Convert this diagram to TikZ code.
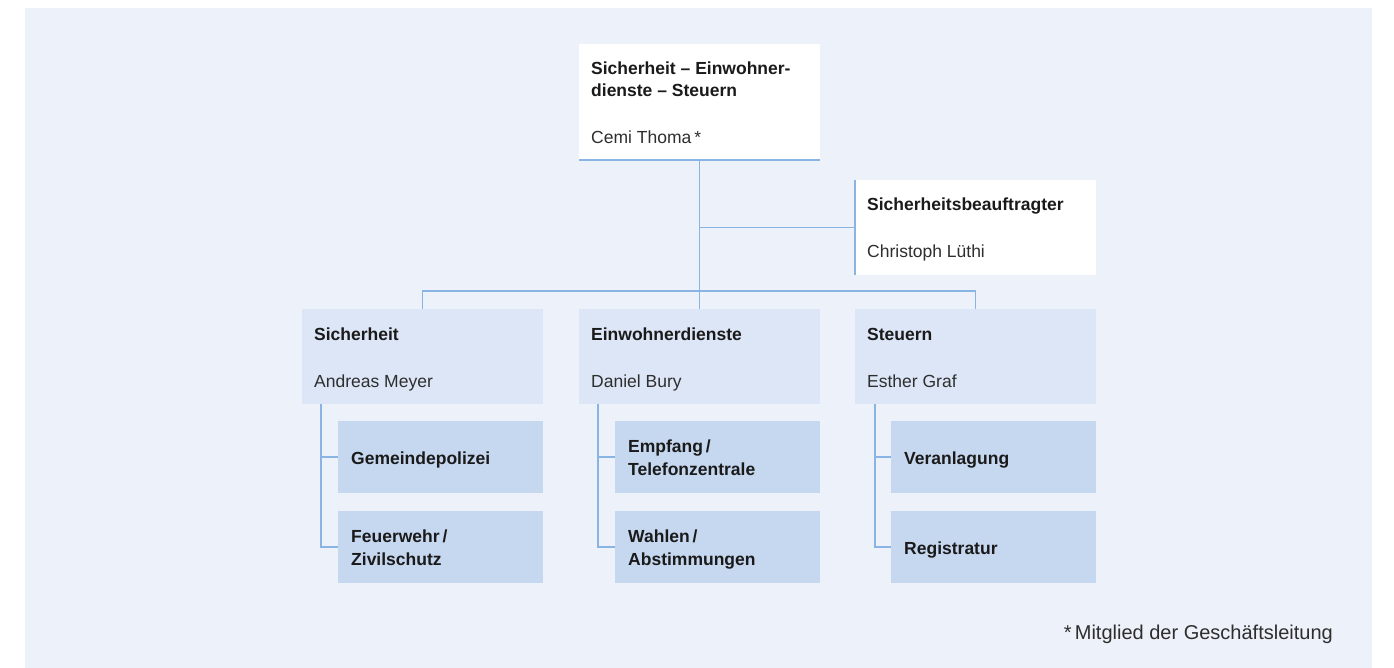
\documentclass[tikz,border=0pt]{standalone}
\usepackage{fontspec}
\setmainfont{Liberation Sans}
\definecolor{bgc}{HTML}{EDF1F9}
\definecolor{lvtwo}{HTML}{DCE6F6}
\definecolor{subc}{HTML}{C6D7F0}
\definecolor{linec}{HTML}{8AB4E3}
\definecolor{txtc}{HTML}{1A1A1A}
\definecolor{namec}{HTML}{2E2E2E}
\tikzset{
  box/.style={rectangle, draw=none, inner sep=0pt, outer sep=0pt, anchor=north west},
  topbox/.style={box, fill=white, minimum width=241pt, minimum height=95pt},
  lvbox/.style={box, fill=lvtwo, minimum width=241pt, minimum height=95pt},
  subbox/.style={box, fill=subc, minimum width=205pt, minimum height=72pt},
  conn/.style={draw=linec, line width=1.8pt},
  ttl/.style={inner sep=0pt, anchor=base west, text=txtc, font=\fontsize{17.5}{22}\selectfont\bfseries},
  nm/.style={inner sep=0pt, anchor=base west, text=namec, font=\fontsize{17.5}{22}\selectfont},
  footn/.style={inner sep=0pt, anchor=base east, text=namec, font=\fontsize{20}{24}\selectfont},
}
\begin{document}
\begin{tikzpicture}[x=1pt,y=-1pt]
\useasboundingbox (0,0) rectangle (1394,668);
\fill[bgc] (25,8) rectangle (1372,668);

% top box
\node[topbox, minimum height=116pt] (top) at (579,44) {};
\node[ttl] (topa) at ([shift={(12,31)}]top.north west) {Sicherheit – Einwohner-};
\node[ttl] (topb) at ([shift={(12,53)}]top.north west) {dienste – Steuern};
\node[nm] (topc) at ([shift={(12,100)}]top.north west) {Cemi Thoma\,*};

% staff box
\node[topbox] (sb) at (855,180) {};
\node[ttl] (sba) at ([shift={(12,31)}]sb.north west) {Sicherheitsbeauftragter};
\node[nm] (sbb) at ([shift={(12,78)}]sb.north west) {Christoph Lüthi};

% level 2
\node[lvbox] (la) at (302,309) {};
\node[lvbox] (lb) at (579,309) {};
\node[lvbox] (lc) at (855,309) {};
\node[ttl] (lat) at ([shift={(12,31)}]la.north west) {Sicherheit};
\node[nm] (lan) at ([shift={(12,78)}]la.north west) {Andreas Meyer};
\node[ttl] (lbt) at ([shift={(12,31)}]lb.north west) {Einwohnerdienste};
\node[nm] (lbn) at ([shift={(12,78)}]lb.north west) {Daniel Bury};
\node[ttl] (lct) at ([shift={(12,31)}]lc.north west) {Steuern};
\node[nm] (lcn) at ([shift={(12,78)}]lc.north west) {Esther Graf};

% sub boxes
\node[subbox] (sa1) at (338,421) {};
\node[subbox] (sa2) at (338,511) {};
\node[subbox] (sb1) at (615,421) {};
\node[subbox] (sb2) at (615,511) {};
\node[subbox] (sc1) at (891,421) {};
\node[subbox] (sc2) at (891,511) {};

\node[ttl] (sa1t) at ([shift={(13,43)}]sa1.north west) {Gemeindepolizei};
\node[ttl] (sa2t) at ([shift={(13,31)}]sa2.north west) {Feuerwehr\,/};
\node[ttl] (sa2u) at ([shift={(13,54)}]sa2.north west) {Zivilschutz};
\node[ttl] (sb1t) at ([shift={(13,31)}]sb1.north west) {Empfang\,/};
\node[ttl] (sb1u) at ([shift={(13,54)}]sb1.north west) {Telefonzentrale};
\node[ttl] (sb2t) at ([shift={(13,31)}]sb2.north west) {Wahlen\,/};
\node[ttl] (sb2u) at ([shift={(13,54)}]sb2.north west) {Abstimmungen};
\node[ttl] (sc1t) at ([shift={(13,43)}]sc1.north west) {Veranlagung};
\node[ttl] (sc2t) at ([shift={(13,43)}]sc2.north west) {Registratur};

% connectors
\draw[conn] (top.south west) -- (top.south east);
\draw[conn] (sb.north west) -- (sb.south west);
\draw[conn] (top.south) -- (lb.north);
\draw[conn] (top.south |- sb.west) -- (sb.west);
\draw[conn] (la.north) -- ++(0,-18) -| (lc.north);

\coordinate (ja) at ([xshift=19pt]la.south west);
\coordinate (jb) at ([xshift=19pt]lb.south west);
\coordinate (jc) at ([xshift=20pt]lc.south west);
\draw[conn] (ja) |- (sa1.west);
\draw[conn] (ja) |- (sa2.west);
\draw[conn] (jb) |- (sb1.west);
\draw[conn] (jb) |- (sb2.west);
\draw[conn] (jc) |- (sc1.west);
\draw[conn] (jc) |- (sc2.west);

% footnote
\node[footn] (foot) at (1333,639) {*\,Mitglied der Geschäftsleitung};
\end{tikzpicture}
\end{document}
